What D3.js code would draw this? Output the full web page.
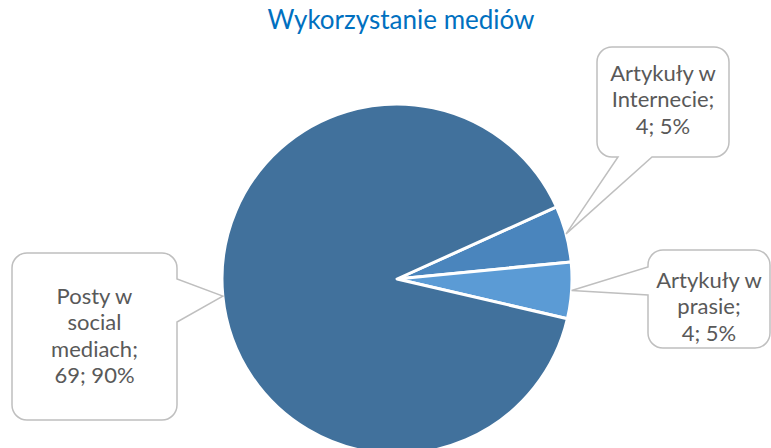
<!DOCTYPE html>
<html>
<head>
<meta charset="utf-8">
<script src="https://cdn.jsdelivr.net/npm/d3@7"></script>
<style>
  body { margin: 0; background: #fff; }
  text { font-family: Lato, "Open Sans", sans-serif; }
</style>
</head>
<body>
<div id="chart"></div>
<script>
// pie data (order as drawn clockwise from the Internet slice)
var categories = ["Artykuły w Internecie", "Artykuły w prasie", "Posty w social mediach"];
var values = [4, 4, 69];
var percents = ["5%", "5%", "90%"];
var labelLines = [
  ["Artykuły w", "Internecie;", "4; 5%"],
  ["Artykuły w", "prasie;", "4; 5%"],
  ["Posty w", "social", "mediach;", "69; 90%"]
];
var colors = ["#4a85bd", "#5b9bd5", "#41719c"];

var W = 771, H = 448;
var cx = 397, cy = 279, R = 175;

var svg = d3.select('#chart').append('svg')
  .attr('width', W).attr('height', H);

svg.append('text')
  .attr('x', 401).attr('y', 29)
  .attr('text-anchor', 'middle')
  .attr('fill', '#0070c0')
  .style('font-size', '26px')
  .text('Wykorzystanie mediów');

var start = 65.7 * Math.PI / 180;
var pie = d3.pie().sort(null).startAngle(start).endAngle(start + 2 * Math.PI);
var arcs = pie(values);
var arc = d3.arc().innerRadius(0).outerRadius(R);

var g = svg.append('g').attr('transform', 'translate(' + cx + ',' + cy + ')');
g.selectAll('path')
  .data(arcs)
  .enter().append('path')
  .attr('d', arc)
  .attr('fill', function (d, i) { return colors[i]; })
  .attr('stroke', '#fff')
  .attr('stroke-width', 3)
  .attr('stroke-linejoin', 'round');

// callout boxes (layout only)
var boxes = [
  { x: 597, y: 47, w: 132, h: 110, side: 'bottom', a: 618, b: 652, ty: 73 },
  { x: 648, y: 250, w: 122, h: 98, side: 'left', a: 267, b: 295, ty: 280 },
  { x: 12, y: 253, w: 165, h: 167, side: 'right', a: 279, b: 322, ty: 296 }
];

function callout(bx, tip) {
  var x0 = bx.x, y0 = bx.y, x1 = bx.x + bx.w, y1 = bx.y + bx.h, r = 15;
  var p = d3.path();
  p.moveTo(x0 + r, y0);
  p.lineTo(x1 - r, y0);
  p.arcTo(x1, y0, x1, y0 + r, r);
  if (bx.side === 'right') {
    p.lineTo(x1, bx.a); p.lineTo(tip[0], tip[1]); p.lineTo(x1, bx.b);
  }
  p.lineTo(x1, y1 - r);
  p.arcTo(x1, y1, x1 - r, y1, r);
  if (bx.side === 'bottom') {
    p.lineTo(bx.b, y1); p.lineTo(tip[0], tip[1]); p.lineTo(bx.a, y1);
  }
  p.lineTo(x0 + r, y1);
  p.arcTo(x0, y1, x0, y1 - r, r);
  if (bx.side === 'left') {
    p.lineTo(x0, bx.b); p.lineTo(tip[0], tip[1]); p.lineTo(x0, bx.a);
  }
  p.lineTo(x0, y0 + r);
  p.arcTo(x0, y0, x0 + r, y0, r);
  p.closePath();
  return p.toString();
}

arcs.forEach(function (d, i) {
  var mid = (d.startAngle + d.endAngle) / 2;
  var tip = [cx + R * Math.sin(mid), cy - R * Math.cos(mid)];
  var bx = boxes[i];
  svg.append('path')
    .attr('d', callout(bx, tip))
    .attr('fill', '#fff')
    .attr('stroke', '#bfbfbf')
    .attr('stroke-width', 1.5);
  var t = svg.append('text')
    .attr('text-anchor', 'middle')
    .attr('fill', '#595959')
    .style('font-size', '22px');
  labelLines[i].forEach(function (line, j) {
    t.append('tspan')
      .attr('x', bx.x + bx.w / 2)
      .attr('y', bx.ty + j * 26.5)
      .attr('dy', '0.35em')
      .text(line);
  });
});
</script>
</body>
</html>
